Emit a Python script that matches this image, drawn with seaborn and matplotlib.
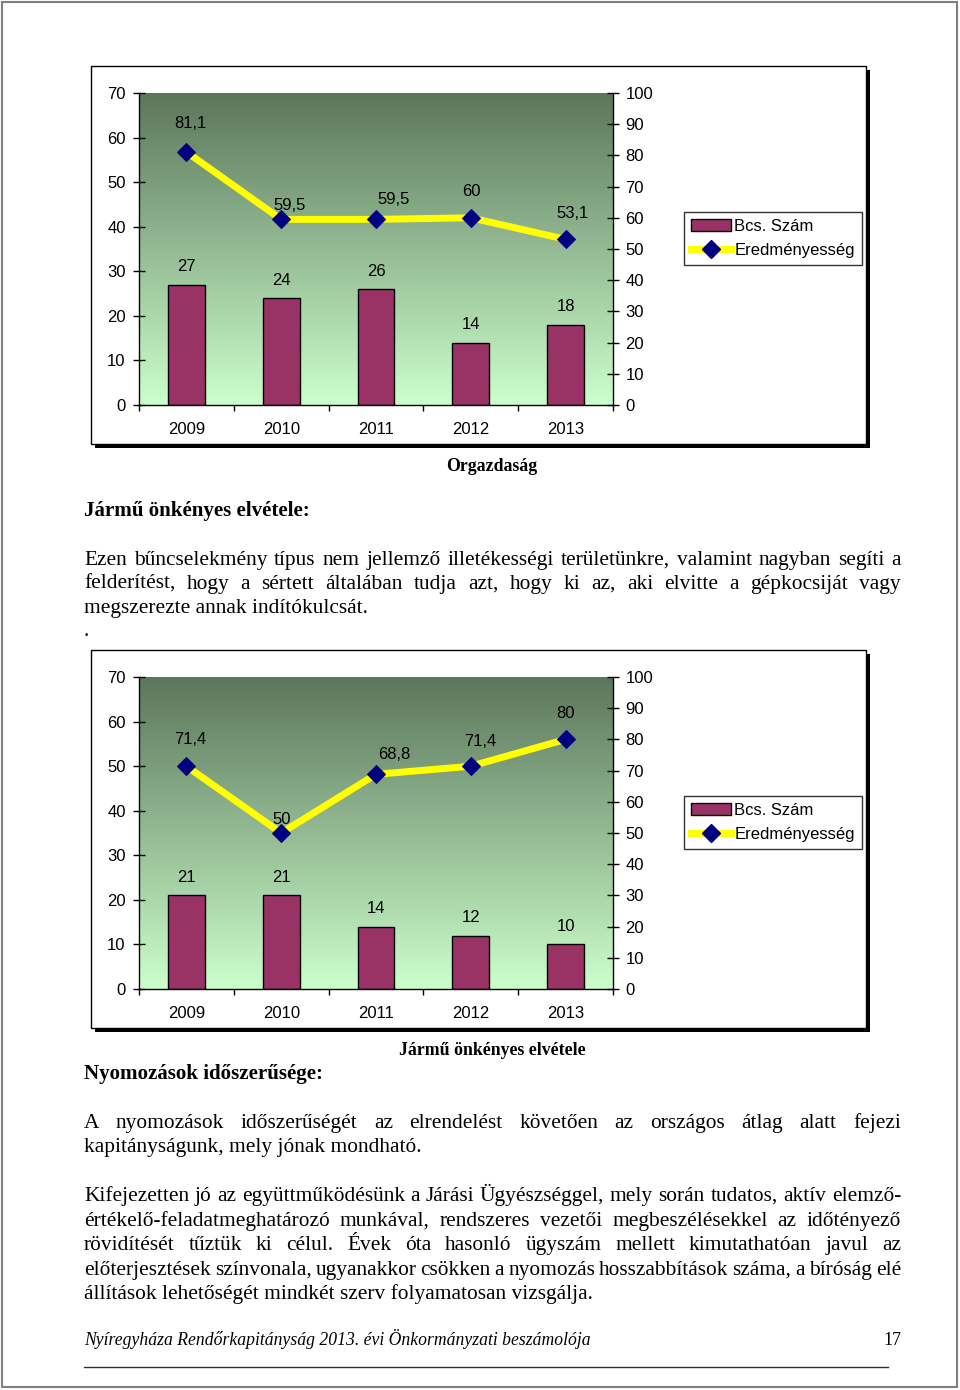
import numpy as np
import matplotlib
matplotlib.use("Agg")
import matplotlib.pyplot as plt
import seaborn as sns
from matplotlib.patches import Rectangle, Patch
from matplotlib.lines import Line2D
from matplotlib.colors import LinearSegmentedColormap

# ---------------- data ----------------
years = ["2009", "2010", "2011", "2012", "2013"]
orgaz_count = [27, 24, 26, 14, 18]
orgaz_eff = [81.1, 59.5, 59.5, 60, 53.1]
jarmu_count = [21, 21, 14, 12, 10]
jarmu_eff = [71.4, 50, 68.8, 71.4, 80]
series_names = ["Bcs. Szám", "Eredményesség"]
left_ticks = [0, 10, 20, 30, 40, 50, 60, 70]
right_ticks = [0, 10, 20, 30, 40, 50, 60, 70, 80, 90, 100]
chart_captions = ["Orgazdaság", "Jármű önkényes elvétele"]

heading1 = "Jármű önkényes elvétele:"
para1 = [
    "Ezen bűncselekmény típus nem jellemző illetékességi területünkre, valamint nagyban segíti a",
    "felderítést, hogy a sértett általában tudja azt, hogy ki az, aki elvitte a gépkocsiját vagy",
    "megszerezte annak indítókulcsát.",
    ".",
]
heading2 = "Nyomozások időszerűsége:"
para2 = [
    "A nyomozások időszerűségét az elrendelést követően az országos átlag alatt fejezi",
    "kapitányságunk, mely jónak mondható.",
]
para3 = [
    "Kifejezetten jó az együttműködésünk a Járási Ügyészséggel, mely során tudatos, aktív elemző-",
    "értékelő-feladatmeghatározó munkával, rendszeres vezetői megbeszélésekkel az időtényező",
    "rövidítését tűztük ki célul. Évek óta hasonló ügyszám mellett kimutathatóan javul az",
    "előterjesztések színvonala, ugyanakkor csökken a nyomozás hosszabbítások száma, a bíróság elé",
    "állítások lehetőségét mindkét szerv folyamatosan vizsgálja.",
]
footer_text = "Nyíregyháza Rendőrkapitányság 2013. évi Önkormányzati beszámolója"
page_number = "17"

# ---------------- style ----------------
W, H = 960, 1390
SANS = ["Liberation Sans", "DejaVu Sans"]
SERIF = ["Liberation Serif", "DejaVu Serif"]
plt.rcParams["font.family"] = SANS
BAR_COLOR = "#993366"
LINE_COLOR = "#FFFF00"
MARK_COLOR = "#000080"
grad_cmap = LinearSegmentedColormap.from_list("g", ["#CCFFCC", "#5C765C"])

fig = plt.figure(figsize=(W / 100, H / 100), dpi=100)
fig.patch.set_facecolor("white")


def fx(px):
    return px / W


def fy(py):
    return 1 - py / H


# page border
fig.patches.append(Rectangle((fx(2), fy(1387)), fx(955), 1385 / H, transform=fig.transFigure,
                             facecolor="none", edgecolor="#808080", lw=1.5, zorder=-10))

TICK_FS = 12


def draw_chart(frame_top, count, eff, eff_offsets, caption, caption_base):
    fl, fr = 91, 866
    fb = frame_top + 378
    # shadow + frame
    fig.patches.append(Rectangle((fx(fl + 4), fy(fb + 4)), fx(fr - fl), (fb - frame_top) / H,
                                 transform=fig.transFigure, facecolor="black", edgecolor="black",
                                 lw=0, zorder=-6))
    fig.patches.append(Rectangle((fx(fl), fy(fb)), fx(fr - fl), (fb - frame_top) / H,
                                 transform=fig.transFigure, facecolor="white", edgecolor="black",
                                 lw=1.0, zorder=-5))
    ptop = frame_top + 27
    pbot = ptop + 312
    rect = [fx(139), fy(pbot), (613 - 139) / W, (pbot - ptop) / H]
    bg = fig.add_axes(rect, zorder=-1)
    bg.imshow(np.linspace(1, 0, 256).reshape(-1, 1), aspect="auto", cmap=grad_cmap,
              extent=(0, 1, 0, 1), interpolation="bilinear")
    bg.set_axis_off()

    ax = fig.add_axes(rect, zorder=0)
    ax.patch.set_alpha(0)
    sns.barplot(x=years, y=count, ax=ax, color=BAR_COLOR, saturation=1, width=0.39,
                edgecolor="black", linewidth=1, errorbar=None)
    ax.set_xlim(-0.5, 4.5)
    ax.set_ylim(0, 70)
    ax.set_yticks(left_ticks)
    ax.set_xticks(range(len(years)))
    ax.set_xticklabels(years)
    ax.set_xticks([i - 0.5 for i in range(len(years) + 1)], minor=True)
    ax.tick_params(axis="x", which="major", length=0, pad=12.5, labelsize=TICK_FS)
    ax.tick_params(axis="x", which="minor", direction="out", length=4.5, width=1, color="black")
    ax.tick_params(axis="y", direction="inout", length=8.5, width=1, pad=5.3, labelsize=TICK_FS)
    for s in ["top", "right"]:
        ax.spines[s].set_visible(False)
    for s in ["left", "bottom"]:
        ax.spines[s].set_color("black")
        ax.spines[s].set_linewidth(1)
    ax.set_xlabel("")
    ax.set_ylabel("")
    for i, v in enumerate(count):
        ax.annotate(str(v), (i, v), xytext=(0, 18), textcoords="offset pixels",
                    ha="center", va="center", fontsize=TICK_FS)

    ax2 = ax.twinx()
    sns.lineplot(x=years, y=eff, ax=ax2, color=LINE_COLOR, linewidth=5, marker="D",
                 markersize=9, markerfacecolor=MARK_COLOR, markeredgecolor=MARK_COLOR,
                 sort=False, zorder=5)
    ax2.set_xlim(-0.5, 4.5)
    ax2.set_ylim(0, 100)
    ax2.set_yticks(right_ticks)
    ax2.tick_params(axis="y", direction="inout", length=8, width=1, pad=5, labelsize=TICK_FS)
    for s in ["top", "left", "bottom"]:
        ax2.spines[s].set_visible(False)
    ax2.spines["right"].set_color("black")
    ax2.spines["right"].set_linewidth(1)
    ax2.set_ylabel("")
    ax2.set_xlabel("")
    for i, v in enumerate(eff):
        dx, dy = eff_offsets[i]
        lab = f"{v:g}".replace(".", ",")
        ax2.annotate(lab, (i, v), xytext=(dx, dy), textcoords="offset pixels",
                     ha="center", va="center", fontsize=TICK_FS)

    handles = [Patch(facecolor=BAR_COLOR, edgecolor="black", lw=1),
               Line2D([], [], color=LINE_COLOR, lw=5, marker="D", markersize=9,
                      markerfacecolor=MARK_COLOR, markeredgecolor=MARK_COLOR)]
    leg = fig.legend(handles, series_names, loc="upper left",
                     bbox_to_anchor=(fx(684), fy(frame_top + 146)), bbox_transform=fig.transFigure,
                     frameon=True, fancybox=False, edgecolor="black", borderpad=0.42,
                     handlelength=2.4, handletextpad=0.2, labelspacing=0.55, borderaxespad=0,
                     fontsize=TICK_FS)
    leg.get_frame().set_linewidth(1)

    fig.text(fx(492), fy(caption_base), caption, ha="center", va="baseline",
             family=SERIF, weight="bold", fontsize=12.8)


draw_chart(66, orgaz_count, orgaz_eff,
           [(4, 28), (8, 14), (18, 20), (1, 26), (7, 26)], chart_captions[0], 471)
draw_chart(650, jarmu_count, jarmu_eff,
           [(4, 27), (0, 14), (18, 20), (9, 25), (0, 26)], chart_captions[1], 1055)

# ---------------- text ----------------
BODY_FS = 15.4
X0, X1 = 84, 901
renderer = fig.canvas.get_renderer()


def put_line(line, base, justify=True, **kw):
    kw.setdefault("fontsize", BODY_FS)
    kw.setdefault("family", SERIF)
    words = line.split(" ")
    if not justify or len(words) < 2:
        fig.text(fx(X0), fy(base), line, ha="left", va="baseline", **kw)
        return
    texts = [fig.text(0, 0, w, ha="left", va="baseline", **kw) for w in words]
    widths = [t.get_window_extent(renderer).width for t in texts]
    gap = (X1 - X0 - sum(widths)) / (len(words) - 1)
    x = X0
    for t, w in zip(texts, widths):
        t.set_position((fx(x), fy(base)))
        x += w + gap


fig.text(fx(X0), fy(516), heading1, ha="left", va="baseline", family=SERIF,
         weight="bold", fontsize=15.1)
for line, base, just in zip(para1, [565, 589, 613, 636], [True, True, False, False]):
    put_line(line, base, just)

fig.text(fx(X0), fy(1079), heading2, ha="left", va="baseline", family=SERIF,
         weight="bold", fontsize=15.1)
for line, base, just in zip(para2, [1128, 1152], [True, False]):
    put_line(line, base, just)
for line, base, just in zip(para3, [1201, 1226, 1250, 1275, 1299],
                            [True, True, True, True, False]):
    put_line(line, base, just)

fig.text(fx(X0), fy(1345), footer_text, ha="left", va="baseline", family=SERIF,
         style="italic", fontsize=12.7)
fig.text(fx(X1), fy(1345), page_number, ha="right", va="baseline", family=SERIF,
         fontsize=13)
fig.add_artist(Line2D([fx(84), fx(888)], [fy(1367), fy(1367)], transform=fig.transFigure,
                      color="#333333", lw=1))

fig.savefig("out.png", dpi=100)
